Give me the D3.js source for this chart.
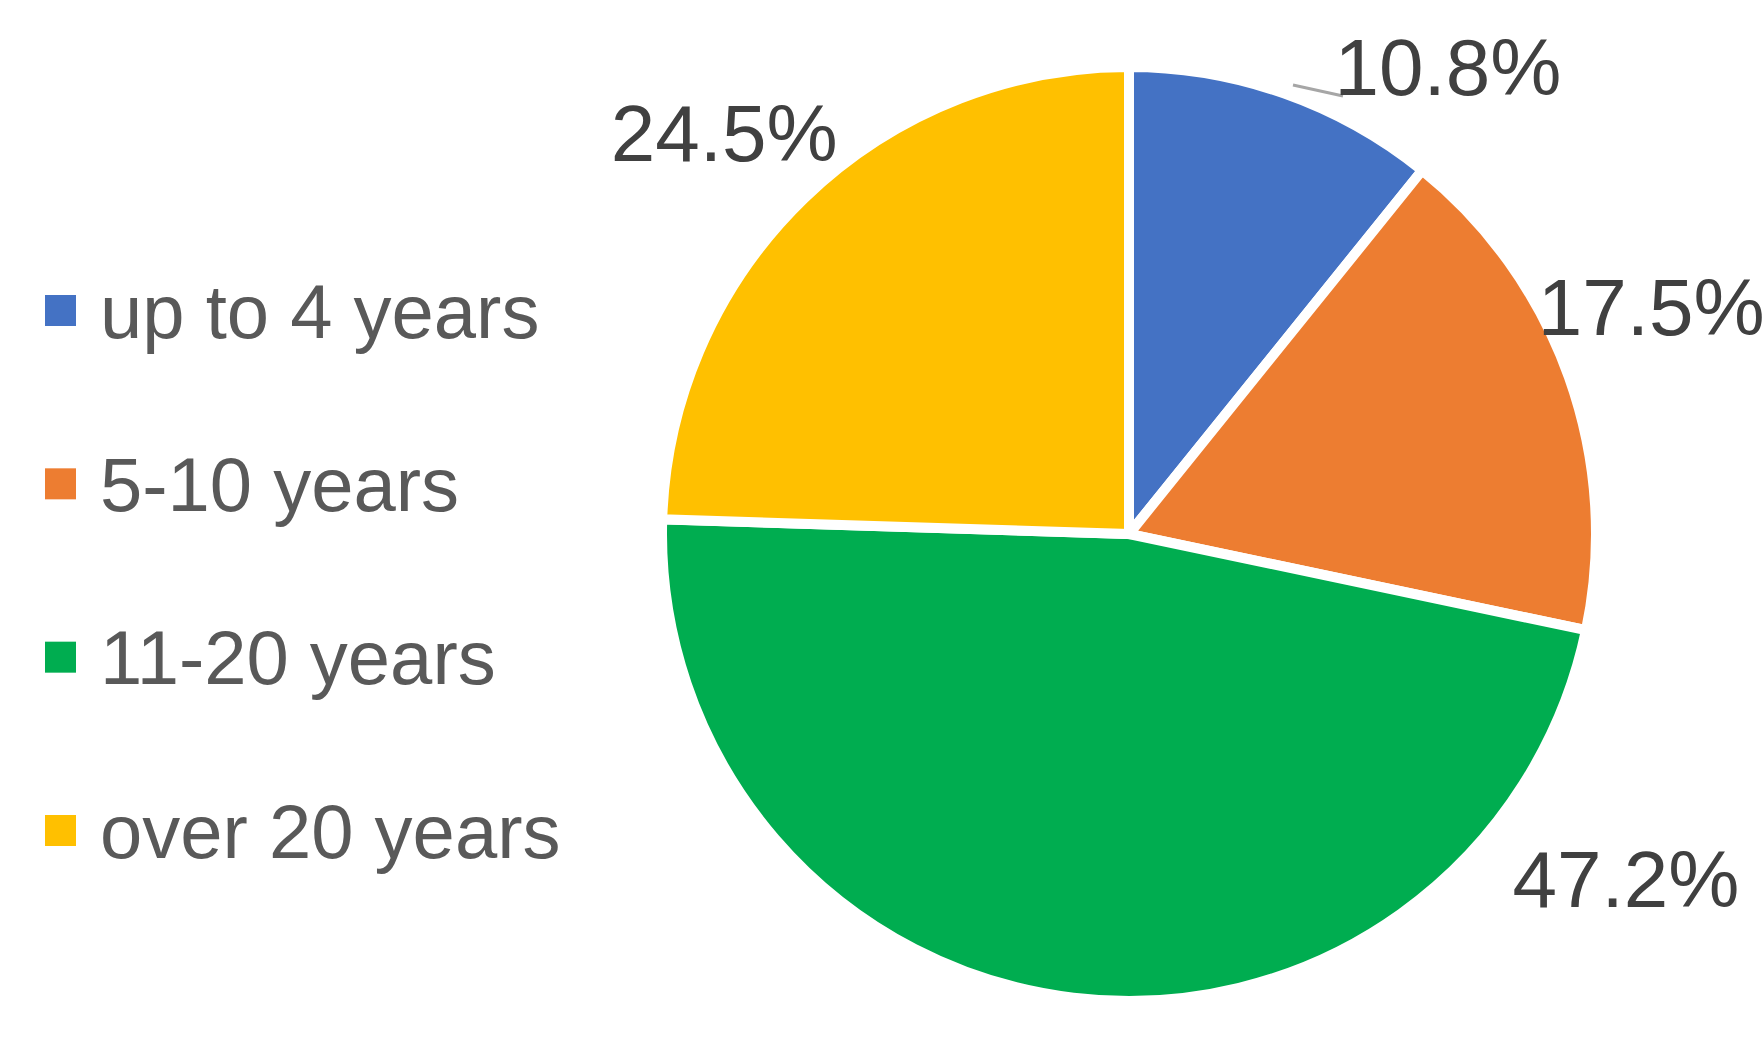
<!DOCTYPE html>
<html><head><meta charset="utf-8">
<script src="https://cdn.jsdelivr.net/npm/d3@7"></script>
<style>body{margin:0;background:#fff}</style></head>
<body><svg id="c" width="1764" height="1037"></svg>
<script>
const categories = ["up to 4 years","5-10 years","11-20 years","over 20 years"];
const values = [10.8,17.5,47.2,24.5];
const colors = ["#4472C4","#ED7D31","#00AD50","#FFC000"];
const labelPos = [[0.683,-1.0],[1.118,-0.484],[1.064,0.739],[-0.867,-0.857]];

const svg = d3.select("#c");
const cx = 1129, cy = 534, R = 467;
const g = svg.append("g").attr("transform",`translate(${cx},${cy})`);
const pie = d3.pie().sort(null).value(d=>d)(values);
const arc = d3.arc().innerRadius(0).outerRadius(R);
g.selectAll("path").data(pie).join("path")
  .attr("d",arc).attr("fill",(d,i)=>colors[i])
  .attr("stroke","#fff").attr("stroke-width",10).attr("stroke-linejoin","miter");

const font = "'Liberation Sans Narrow','Arial Narrow','Liberation Sans',sans-serif";
// leader line for first label
g.append("path").attr("d",`M${164},${-449}L${214},${-438}`)
  .attr("stroke","#A6A6A6").attr("stroke-width",3).attr("fill","none");
g.selectAll("text.lab").data(pie).join("text").attr("class","lab")
  .attr("x",(d,i)=>labelPos[i][0]*R).attr("y",(d,i)=>labelPos[i][1]*R)
  .attr("text-anchor","middle").attr("dominant-baseline","central")
  .attr("font-family",font).attr("font-size",80).attr("fill","#404040")
  .text(d=>d.data.toFixed(1)+"%");

const leg = svg.append("g");
const ly = d3.scalePoint().domain(categories).range([311,831]);
leg.selectAll("rect").data(categories).join("rect")
  .attr("x",45).attr("y",d=>ly(d)-16).attr("width",31).attr("height",31)
  .attr("fill",(d,i)=>colors[i]);
leg.selectAll("text").data(categories).join("text")
  .attr("x",100).attr("y",d=>ly(d)).attr("dominant-baseline","central")
  .attr("font-family",font).attr("font-size",76).attr("fill","#595959")
  .text(d=>d);
</script></body></html>
